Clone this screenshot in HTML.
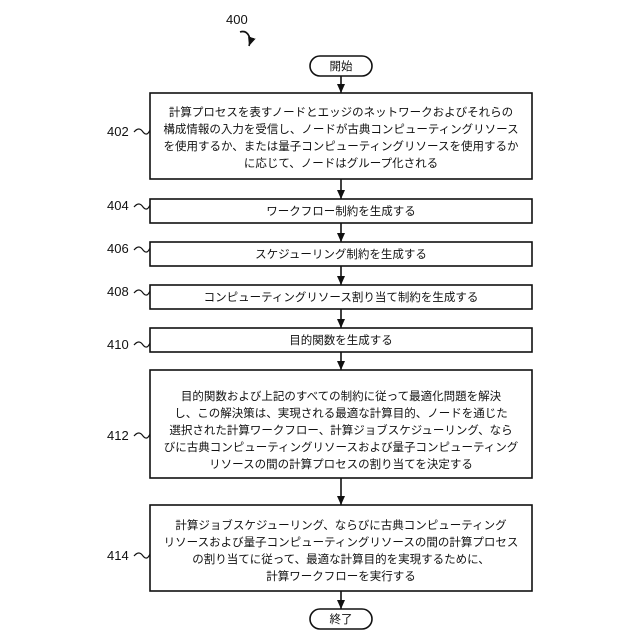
<!DOCTYPE html>
<html><head><meta charset="utf-8"><style>
body{margin:0;background:#fff}
svg{display:block}
text{font-family:"Liberation Sans","Noto Sans CJK JP",sans-serif;fill:#111}
.t{font-size:11.5px;text-anchor:middle}
.l{font-size:13px}
</style></head><body>
<svg width="640" height="640" viewBox="0 0 640 640" xmlns="http://www.w3.org/2000/svg">
<defs><marker id="a" markerWidth="9" markerHeight="8" refX="9" refY="4" orient="auto" markerUnits="userSpaceOnUse"><path d="M0,0 L9,4 L0,8 z" fill="#111"/></marker></defs>
<g stroke="#111" stroke-width="1.6" fill="none">
<path d="M240,32 q6,-2 9,4 q2,4 0,10" marker-end="url(#a)"/>
<rect x="310" y="56" width="62" height="20" rx="10"/>
<rect x="150" y="93" width="382" height="86"/>
<rect x="150" y="199" width="382" height="24"/>
<rect x="150" y="242" width="382" height="24"/>
<rect x="150" y="285" width="382" height="24"/>
<rect x="150" y="328" width="382" height="24"/>
<rect x="150" y="370" width="382" height="108"/>
<rect x="150" y="505" width="382" height="86"/>
<rect x="310" y="609" width="62" height="20" rx="10"/>
<line x1="341" y1="76" x2="341" y2="93" marker-end="url(#a)"/>
<line x1="341" y1="179" x2="341" y2="199" marker-end="url(#a)"/>
<line x1="341" y1="223" x2="341" y2="242" marker-end="url(#a)"/>
<line x1="341" y1="266" x2="341" y2="285" marker-end="url(#a)"/>
<line x1="341" y1="309" x2="341" y2="328" marker-end="url(#a)"/>
<line x1="341" y1="352" x2="341" y2="370" marker-end="url(#a)"/>
<line x1="341" y1="478" x2="341" y2="505" marker-end="url(#a)"/>
<line x1="341" y1="591" x2="341" y2="609" marker-end="url(#a)"/>
<g stroke-width="1.2">
<path d="M134,132 q5,-6 9,0 q4,5 7,-2"/>
<path d="M134,207 q5,-6 9,0 q4,5 7,-2"/>
<path d="M134,250 q5,-6 9,0 q4,5 7,-2"/>
<path d="M134,293 q5,-6 9,0 q4,5 7,-2"/>
<path d="M134,345 q5,-6 9,0 q4,5 7,-2"/>
<path d="M134,436 q5,-6 9,0 q4,5 7,-2"/>
<path d="M134,556 q5,-6 9,0 q4,5 7,-2"/>
</g></g>
<text class="l" x="226" y="24">400</text>
<text class="t" x="341" y="70">開始</text>
<text class="t" x="341" y="623">終了</text>
<text class="l" x="107" y="136">402</text>
<text class="l" x="107" y="210">404</text>
<text class="l" x="107" y="253">406</text>
<text class="l" x="107" y="296">408</text>
<text class="l" x="107" y="349">410</text>
<text class="l" x="107" y="440">412</text>
<text class="l" x="107" y="560">414</text>
<text class="t" x="341" y="116">計算プロセスを表すノードとエッジのネットワークおよびそれらの</text>
<text class="t" x="341" y="133">構成情報の入力を受信し、ノードが古典コンピューティングリソース</text>
<text class="t" x="341" y="150">を使用するか、または量子コンピューティングリソースを使用するか</text>
<text class="t" x="341" y="167">に応じて、ノードはグループ化される</text>
<text class="t" x="341" y="215">ワークフロー制約を生成する</text>
<text class="t" x="341" y="258">スケジューリング制約を生成する</text>
<text class="t" x="341" y="301">コンピューティングリソース割り当て制約を生成する</text>
<text class="t" x="341" y="344">目的関数を生成する</text>
<text class="t" x="341" y="400">目的関数および上記のすべての制約に従って最適化問題を解決</text>
<text class="t" x="341" y="417">し、この解決策は、実現される最適な計算目的、ノードを通じた</text>
<text class="t" x="341" y="434">選択された計算ワークフロー、計算ジョブスケジューリング、なら</text>
<text class="t" x="341" y="451">びに古典コンピューティングリソースおよび量子コンピューティング</text>
<text class="t" x="341" y="468">リソースの間の計算プロセスの割り当てを決定する</text>
<text class="t" x="341" y="529">計算ジョブスケジューリング、ならびに古典コンピューティング</text>
<text class="t" x="341" y="546">リソースおよび量子コンピューティングリソースの間の計算プロセス</text>
<text class="t" x="341" y="563">の割り当てに従って、最適な計算目的を実現するために、</text>
<text class="t" x="341" y="580">計算ワークフローを実行する</text>
</svg>
</body></html>
